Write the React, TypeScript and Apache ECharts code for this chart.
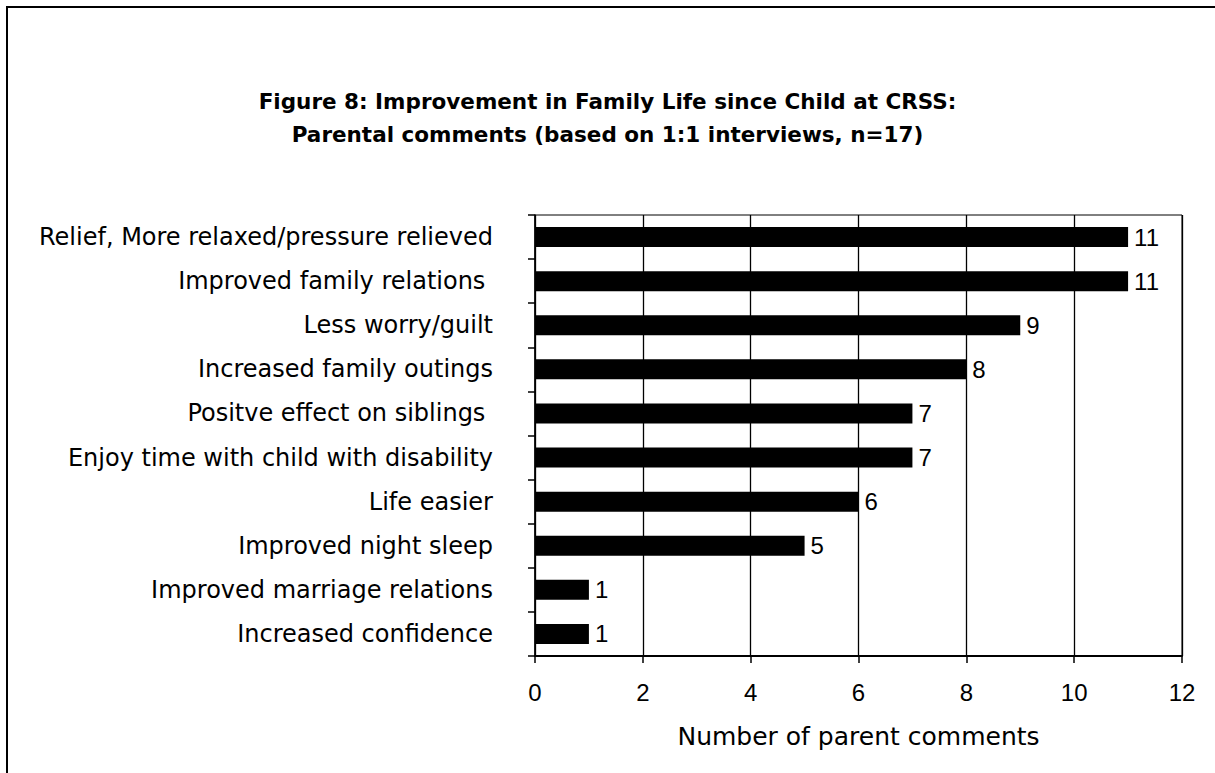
import React, { useEffect, useRef } from "react";
import * as echarts from "echarts";

const categories = [
  "Relief, More relaxed/pressure relieved",
  "Improved family relations ",
  "Less worry/guilt",
  "Increased family outings",
  "Positve effect on siblings ",
  "Enjoy time with child with disability",
  "Life easier",
  "Improved night sleep",
  "Improved marriage relations",
  "Increased confidence",
];
const values = [11, 11, 9, 8, 7, 7, 6, 5, 1, 1];
const titleLines = [
  "Figure 8: Improvement in Family Life since Child at CRSS:",
  "Parental comments (based on 1:1 interviews, n=17)",
];
const xAxisName = "Number of parent comments";

export default function App() {
  const ref = useRef<HTMLDivElement>(null);
  useEffect(() => {
    document.body.style.margin = "0";
    const chart = echarts.init(ref.current!, null, { renderer: "svg" });
    chart.setOption({
      animation: false,
      backgroundColor: "#ffffff",
      title: {
        text: titleLines.join("\n"),
        left: "center",
        top: 80,
        textStyle: {
          fontFamily: "DejaVu Sans",
          fontWeight: "bold",
          fontSize: 21.5,
          lineHeight: 33,
          color: "#000",
        },
      },
      graphic: [
        {
          type: "rect",
          shape: { x: 7, y: 7, width: 1240, height: 800 },
          style: { fill: "none", stroke: "#000", lineWidth: 2 },
          silent: true,
        },
      ],
      grid: {
        left: 535,
        right: 33,
        top: 215,
        bottom: 117,
        show: true,
        borderColor: "#000",
        borderWidth: 1,
        backgroundColor: "transparent",
      },
      xAxis: {
        type: "value",
        min: 0,
        max: 12,
        interval: 2,
        name: xAxisName,
        nameLocation: "middle",
        nameGap: 68,
        nameTextStyle: { fontFamily: "DejaVu Sans", fontSize: 25, color: "#000" },
        axisLine: { show: true, lineStyle: { color: "#000", width: 2 } },
        axisTick: { show: true, length: 7, lineStyle: { color: "#000", width: 1.5 } },
        axisLabel: { fontFamily: "Liberation Sans", fontSize: 24, color: "#000", margin: 24 },
        splitLine: { show: true, lineStyle: { color: "#000", width: 1.3 } },
      },
      yAxis: {
        type: "category",
        data: categories,
        inverse: true,
        axisLine: { show: true, lineStyle: { color: "#000", width: 1.5 } },
        axisTick: { show: true, length: 7, lineStyle: { color: "#000", width: 1.5 } },
        axisLabel: { fontFamily: "DejaVu Sans", fontSize: 24, color: "#000", margin: 42 },
        splitLine: { show: false },
      },
      series: [
        {
          type: "bar",
          data: values,
          barWidth: 20,
          itemStyle: { color: "#000" },
          label: {
            show: true,
            position: "right",
            distance: 6,
            fontFamily: "Liberation Sans",
            fontSize: 24,
            color: "#000",
          },
        },
      ],
    });
    return () => chart.dispose();
  }, []);
  return (
    <div
      ref={ref}
      style={{ position: "absolute", left: 0, top: 0, width: 1215, height: 773 }}
    />
  );
}
